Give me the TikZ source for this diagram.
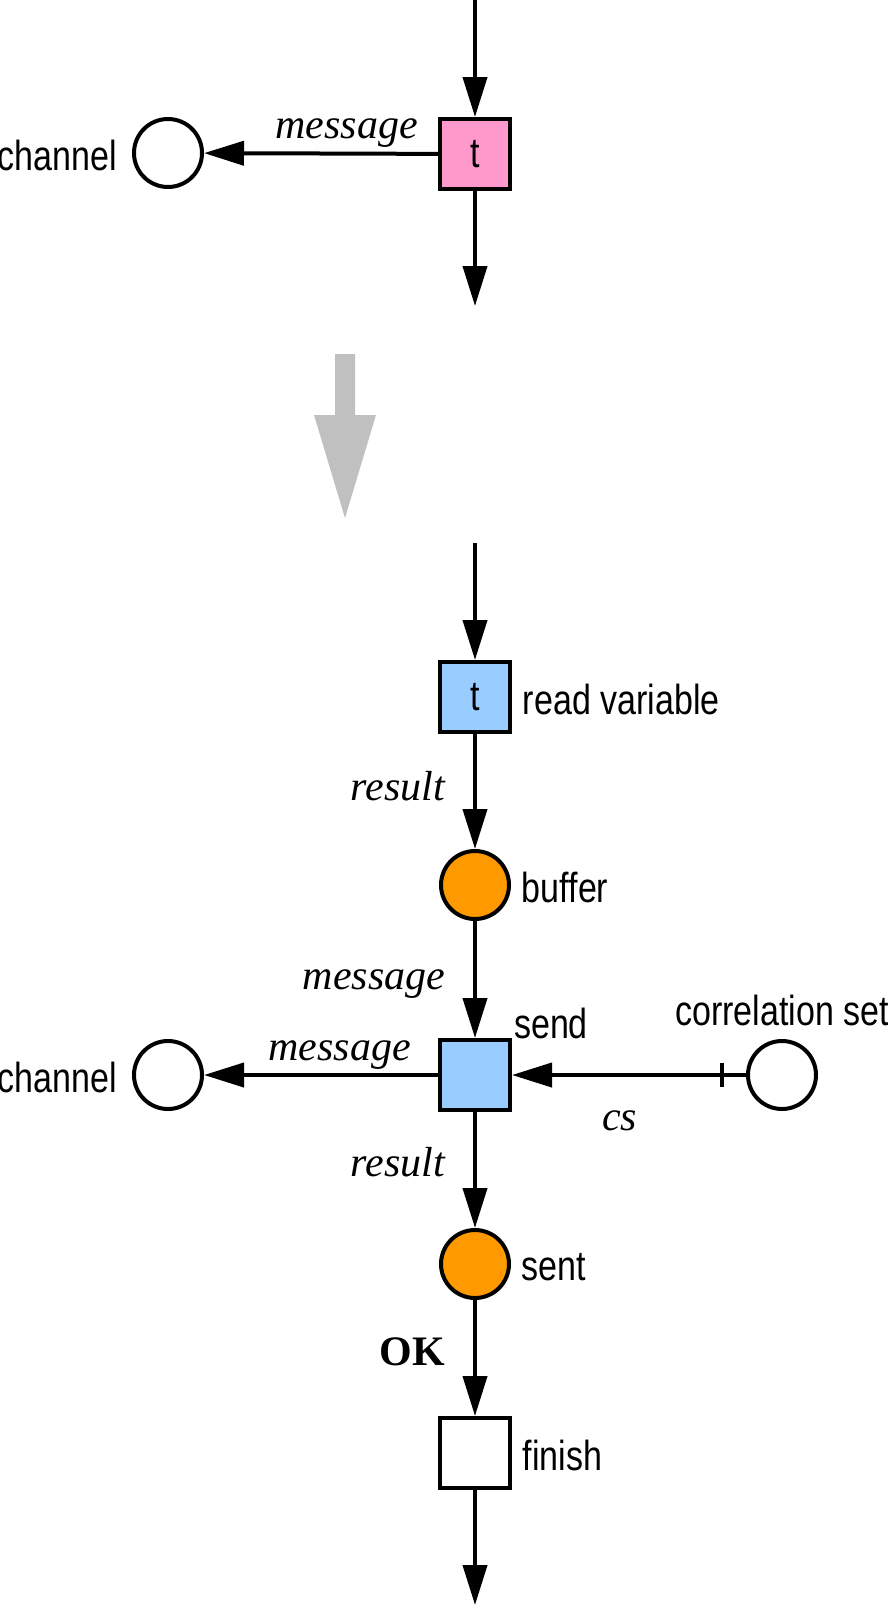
\documentclass[tikz,border=0pt]{standalone}
\usepackage{fontspec}
\setmainfont{Liberation Serif}
\newfontfamily\namefont[FakeStretch=0.81]{Liberation Sans}
\newcommand\bigsize{\fontsize{31.5pt}{36pt}\selectfont}
\usetikzlibrary{arrows.meta}

\definecolor{tpink}{HTML}{FF99CC}
\definecolor{tblue}{HTML}{99CCFF}
\definecolor{porange}{HTML}{FF9900}
\definecolor{refgray}{HTML}{C0C0C0}

\begin{document}
\begin{tikzpicture}[x=0.75pt,y=-0.75pt]
			\tikzset{trans/.style={shape = rectangle, draw, line width = 3pt, minimum size = 52.5pt, inner sep = 0pt, font = \namefont\bigsize}}
			\tikzset{place/.style={shape = circle, draw, line width = 3pt, minimum size = 51pt, inner sep = 0pt}}
			\tikzset{arc/.style={draw, line width = 3pt, -{Triangle[length = 30pt, width = 18pt]}}}
			\tikzset{inscr/.style={font = \itshape\bigsize, inner sep = 5pt}}
			\tikzset{every label/.style={font = \namefont\bigsize, inner sep = 0pt, yshift = -2pt}, label distance = 8pt}
			\useasboundingbox (0, 0) rectangle (888, 1607);
			%before
			\coordinate (in1) at (475, 0);
			\coordinate (out1) at (475, 306);
			\node[trans, fill = tpink] (t1) at (475, 154) {t};
			\node[place, label = {[label distance = 11pt]left:channel}] (ch1) at (168, 153) {};
			\path (in1) edge[arc] (t1);
			\path (t1) edge[arc] (out1);
			\path (t1) edge[arc] node[inscr, pos = .39, above, inner sep = 3pt] {message} (ch1);
			%refinement arrow
			\fill[refgray] (335, 354) -- (355, 354) -- (355, 415) -- (376, 415) -- (345, 518) -- (314, 415) -- (335, 415) -- cycle;
			%after
			\coordinate (in2) at (475, 543);
			\coordinate (out2) at (475, 1605);
			\node[trans, fill = tblue, label = right:read variable] (read) at (475, 697) {t};
			\node[place, fill = porange, label = right:buffer] (buffer) at (475, 885) {};
			\node[trans, fill = tblue, label = {[label distance = 2pt]above right:send}] (send) at (475, 1075) {};
			\node[place, label = {[label distance = 11pt]left:channel}] (ch2) at (168, 1075) {};
			\node[place, label = {[label distance = 12pt]above:correlation set}] (corr) at (782, 1075) {};
			\node[place, fill = porange, label = right:sent] (sent) at (475, 1264) {};
			\node[trans, label = right:finish] (finish) at (475, 1453) {};
			\path (in2) edge[arc] (read);
			\path (read) edge[arc] node[inscr, pos = .45, left = 16pt] {result} (buffer);
			\path (buffer) edge[arc] node[inscr, pos = .54, left = 16pt] {message} (send);
			\path (send) edge[arc] node[inscr, pos = .42, above, inner sep = 3pt] {message} (ch2);
			\path (corr) edge[arc] node[inscr, pos = .54, below = 20pt] {cs} (send);
			\draw[line width = 2.5pt] ([xshift = -18pt]corr.west) ++(0, -12) -- ++(0, 24);
			\path (send) edge[arc] node[inscr, pos = .43, left = 16pt] {result} (sent);
			\path (sent) edge[arc] node[inscr, pos = .45, left = 16pt, font = \bfseries\bigsize] {OK} (finish);
			\path (finish) edge[arc] (out2);
\end{tikzpicture}
\end{document}
